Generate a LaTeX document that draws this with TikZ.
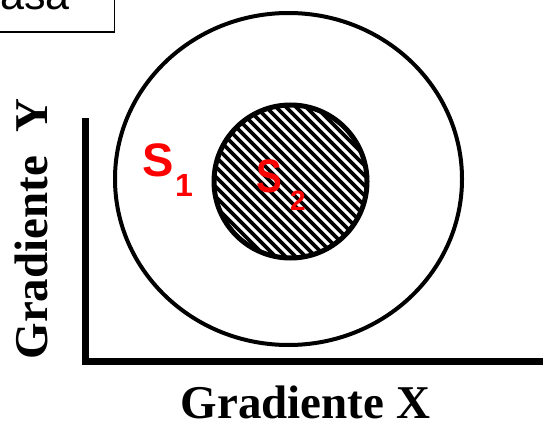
\documentclass[tikz,border=0pt]{standalone}
\usepackage{fontspec}
\setmainfont{Liberation Serif}
\newfontfamily\arialfont{Liberation Sans}
\usetikzlibrary{calc,shapes.geometric}
\definecolor{sred}{RGB}{255,0,0}
\tikzset{
  axisline/.style={line width=7pt, line join=miter},
  gradlabel/.style={font=\fontsize{47}{50}\selectfont\bfseries, inner sep=0pt, anchor=base},
  slabel/.style={font=\arialfont\fontsize{47}{50}\selectfont\bfseries, text=sred, inner sep=0pt, anchor=base west},
  sublabel/.style={font=\arialfont\fontsize{32}{34}\selectfont\bfseries, text=sred, inner sep=0pt, anchor=base west},
  hatched/.style={path picture={
      \foreach \i in {-22,...,22}
        \draw[line width=3.8pt] ($(path picture bounding box.center)+(\i*10-110,110)$) -- ++(220,-220);
    }},
}
\begin{document}
\begin{tikzpicture}[x=1pt,y=1pt]
\useasboundingbox (0,0) rectangle (543,421);
% top-left box (cropped)
\node[draw, line width=1.5pt, minimum width=140pt, minimum height=60pt, anchor=south east, inner sep=0pt] (box) at (115,388) {};
\node[font=\arialfont\fontsize{43}{46}\selectfont, anchor=base east, inner sep=0pt] (boxtext) at (70,411) {asa};
% axes
\coordinate (ytop) at (85,303);
\coordinate (origin) at (85,60);
\coordinate (xend) at (548,60);
\draw[axisline] (ytop) -- (origin) -- (xend);
% outer ellipse
\node[draw, ellipse, line width=4pt, minimum width=347pt, minimum height=332pt, inner sep=0pt] (outer) at (288.5,242) {};
% inner hatched circle
\node[draw, circle, line width=5pt, minimum size=153pt, inner sep=0pt, hatched] (inner) at (290.5,239.5) {};
% labels
\node[slabel] (s1) at (142,244) {S};
\node[sublabel] (s1sub) at (175,225) {1};
\node[slabel, xscale=0.82] (s2) at (256,229) {S};
\node[sublabel, font=\arialfont\fontsize{28}{30}\selectfont\bfseries] (s2sub) at (290,211) {2};
\node[gradlabel] (gx) at (305.5,3) {Gradiente X};
\node[gradlabel, rotate=90] (gy) at (47,192) {Gradiente\ \ Y};
\end{tikzpicture}
\end{document}
